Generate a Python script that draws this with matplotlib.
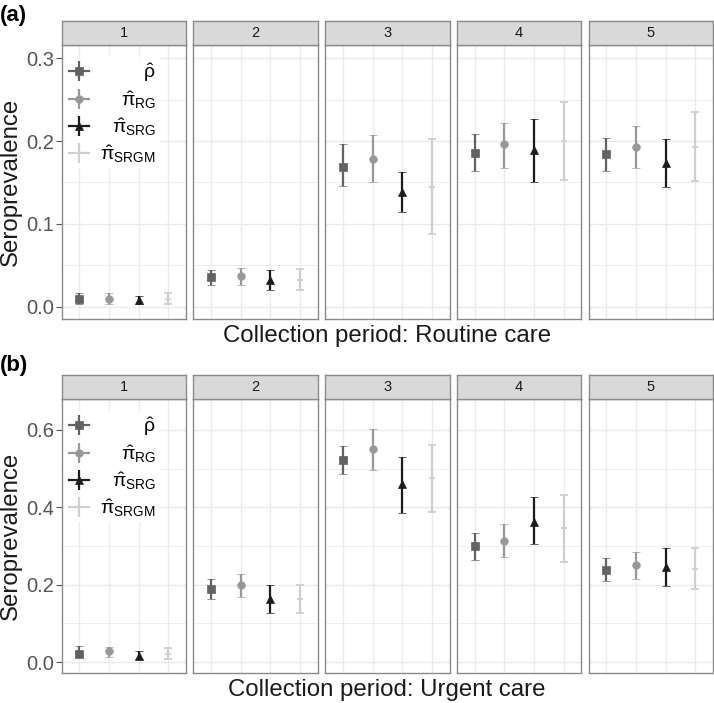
import matplotlib
matplotlib.use("Agg")
import matplotlib.pyplot as plt
from matplotlib.lines import Line2D
from matplotlib.legend_handler import HandlerTuple
import numpy as np

plt.rcParams['font.family'] = ['Liberation Sans', 'DejaVu Sans']
plt.rcParams['mathtext.fontset'] = 'custom'
plt.rcParams['mathtext.rm'] = 'Liberation Sans'
plt.rcParams['mathtext.it'] = 'Liberation Sans'
plt.rcParams['mathtext.bf'] = 'Liberation Sans:bold'

periods = ['1', '2', '3', '4', '5']
estimators = ['rho', 'RG', 'SRG', 'SRGM']
legend_labels = [r'$\hat{\rho}$', r'$\hat{\pi}_{\mathrm{RG}}$',
                 r'$\hat{\pi}_{\mathrm{SRG}}$', r'$\hat{\pi}_{\mathrm{SRGM}}$']
colors = ['#626262', '#989898', '#1c1c1c', '#cfcfcf']
markers = ['s', 'o', '^', '+']

# Routine care: rows = estimators, columns = periods
routine_est = [[0.010, 0.036, 0.169, 0.186, 0.184],
               [0.010, 0.037, 0.178, 0.196, 0.193],
               [0.008, 0.032, 0.138, 0.189, 0.174],
               [0.009, 0.033, 0.145, 0.200, 0.193]]
routine_lo = [[0.004, 0.026, 0.146, 0.164, 0.164],
              [0.004, 0.026, 0.150, 0.168, 0.168],
              [0.003, 0.020, 0.115, 0.150, 0.144],
              [0.003, 0.020, 0.088, 0.153, 0.152]]
routine_hi = [[0.017, 0.045, 0.196, 0.209, 0.204],
              [0.0165, 0.047, 0.207, 0.222, 0.218],
              [0.013, 0.045, 0.163, 0.226, 0.202],
              [0.0165, 0.046, 0.203, 0.247, 0.235]]

# Urgent care
urgent_est = [[0.022, 0.188, 0.522, 0.300, 0.238],
              [0.028, 0.199, 0.550, 0.314, 0.251],
              [0.016, 0.163, 0.459, 0.363, 0.245],
              [0.021, 0.162, 0.475, 0.346, 0.2405]]
urgent_lo = [[0.012, 0.163, 0.485, 0.264, 0.210],
             [0.012, 0.169, 0.4965, 0.272, 0.2155],
             [0.008, 0.128, 0.386, 0.304, 0.1965],
             [0.007, 0.126, 0.388, 0.2586, 0.188]]
urgent_hi = [[0.041, 0.2145, 0.559, 0.334, 0.268],
             [0.038, 0.227, 0.603, 0.357, 0.285],
             [0.029, 0.200, 0.529, 0.426, 0.294],
             [0.035, 0.199, 0.560, 0.432, 0.294]]

routine_yticks = [0.0, 0.1, 0.2, 0.3]
urgent_yticks = [0.0, 0.2, 0.4, 0.6]

W, H = 714, 703
fig = plt.figure(figsize=(W / 100, H / 100), dpi=100)


def box(l, t, r, b):
    return [l / W, 1 - b / H, (r - l) / W, (b - t) / H]


BORDER = '#8a8a8a'
GRID = '#ebebeb'


def draw_block(top, est, lo, hi, ylim, yticks, xlabel, tag, label_y, tag_y):
    strip_h = 24
    panel_h = 274
    legends = []
    for j, per in enumerate(periods):
        l = 61.5 + j * 131.8
        r = l + 124.5
        ax = fig.add_axes(box(l, top + strip_h, r, top + strip_h + panel_h))
        sx = fig.add_axes(box(l, top, r, top + strip_h))
        sx.set_facecolor('#d9d9d9')
        sx.set_xticks([]); sx.set_yticks([])
        for s in sx.spines.values():
            s.set_color(BORDER); s.set_linewidth(1.0)
        sx.text(0.5, 0.5, per, ha='center', va='center', fontsize=10.5, color='#1a1a1a',
                transform=sx.transAxes)

        ax.set_yticks(yticks)
        step = yticks[1] - yticks[0]
        ax.set_yticks([t + step / 2 for t in yticks[:-1]], minor=True)
        ax.set_xticks([1, 2, 3, 4])
        ax.set_xlim(0.4, 4.6)
        ax.set_ylim(*ylim)
        ax.grid(True, which='major', color=GRID, lw=1.0)
        ax.grid(True, which='minor', axis='y', color=GRID, lw=0.6)
        ax.set_axisbelow(True)
        ax.tick_params(axis='x', length=0, labelbottom=False)
        ax.tick_params(axis='y', which='minor', length=0)
        if j == 0:
            ax.tick_params(axis='y', which='major', length=4, color='#555555',
                           labelsize=14.5, labelcolor='#555555', pad=1.5)
            ax.set_yticklabels([f'{t:.1f}' for t in yticks])
        else:
            ax.tick_params(axis='y', which='major', length=0, labelleft=False)
        for s in ax.spines.values():
            s.set_color(BORDER); s.set_linewidth(1.0)

        for k in range(len(estimators)):
            e = est[k][j]
            ax.errorbar([k + 1], [e], yerr=[[e - lo[k][j]], [hi[k][j] - e]],
                        fmt=markers[k], color=colors[k], ecolor=colors[k],
                        elinewidth=1.6, capsize=3, capthick=1.6,
                        markersize=5.5 if markers[k] != '+' else 5,
                        markeredgewidth=1.3 if markers[k] == '+' else 0.5)

        if j == 0:
            handles = []
            for k in range(len(estimators)):
                h1 = Line2D([], [], color=colors[k], lw=1.6, marker=markers[k],
                            markersize=5.5 if markers[k] != '+' else 5,
                            markeredgewidth=1.3 if markers[k] == '+' else 0.5)
                h2 = Line2D([], [], color=colors[k], marker='|', markersize=15,
                            markeredgewidth=1.6, ls='none')
                handles.append((h1, h2))
            leg = ax.legend(handles, legend_labels, handler_map={tuple: HandlerTuple(ndivide=1)},
                            loc='upper left', bbox_to_anchor=(0.03, 0.955), borderaxespad=0,
                            frameon=True, framealpha=1.0, edgecolor='none', facecolor='white',
                            fontsize=14, handlelength=1.0, handletextpad=0.6,
                            labelspacing=0.25, borderpad=0.2, fancybox=False)
            legends.append(leg)
    fig.text(387 / W, 1 - label_y / H, xlabel, ha='center', va='center', fontsize=17.3,
             color='#1a1a1a')
    fig.text(11 / W, 1 - (top + strip_h + panel_h / 2) / H, 'Seroprevalence', rotation=90,
             ha='center', va='center', fontsize=17.3, color='#1a1a1a')
    fig.text(0 / W, 1 - tag_y / H, tag, ha='left', va='center', fontsize=16,
             fontweight='bold', color='black')
    return legends


legs = []
legs += draw_block(21, routine_est, routine_lo, routine_hi, (-0.0145, 0.3157), routine_yticks,
                   'Collection period: Routine care', '(a)', 336, 16)
legs += draw_block(375, urgent_est, urgent_lo, urgent_hi, (-0.0284, 0.680), urgent_yticks,
                   'Collection period: Urgent care', '(b)', 690, 365)

# right-align legend labels (as in the reference)
fig.canvas.draw()
renderer = fig.canvas.get_renderer()
for leg in legs:
    cols = leg._legend_handle_box.get_children()
    for col in cols:
        rows = col.get_children()
        maxw = max(r.get_bbox(renderer).width for r in rows)
        for r in rows:
            r.mode = 'expand'
            r.width = maxw

fig.savefig('out.png', dpi=100)
